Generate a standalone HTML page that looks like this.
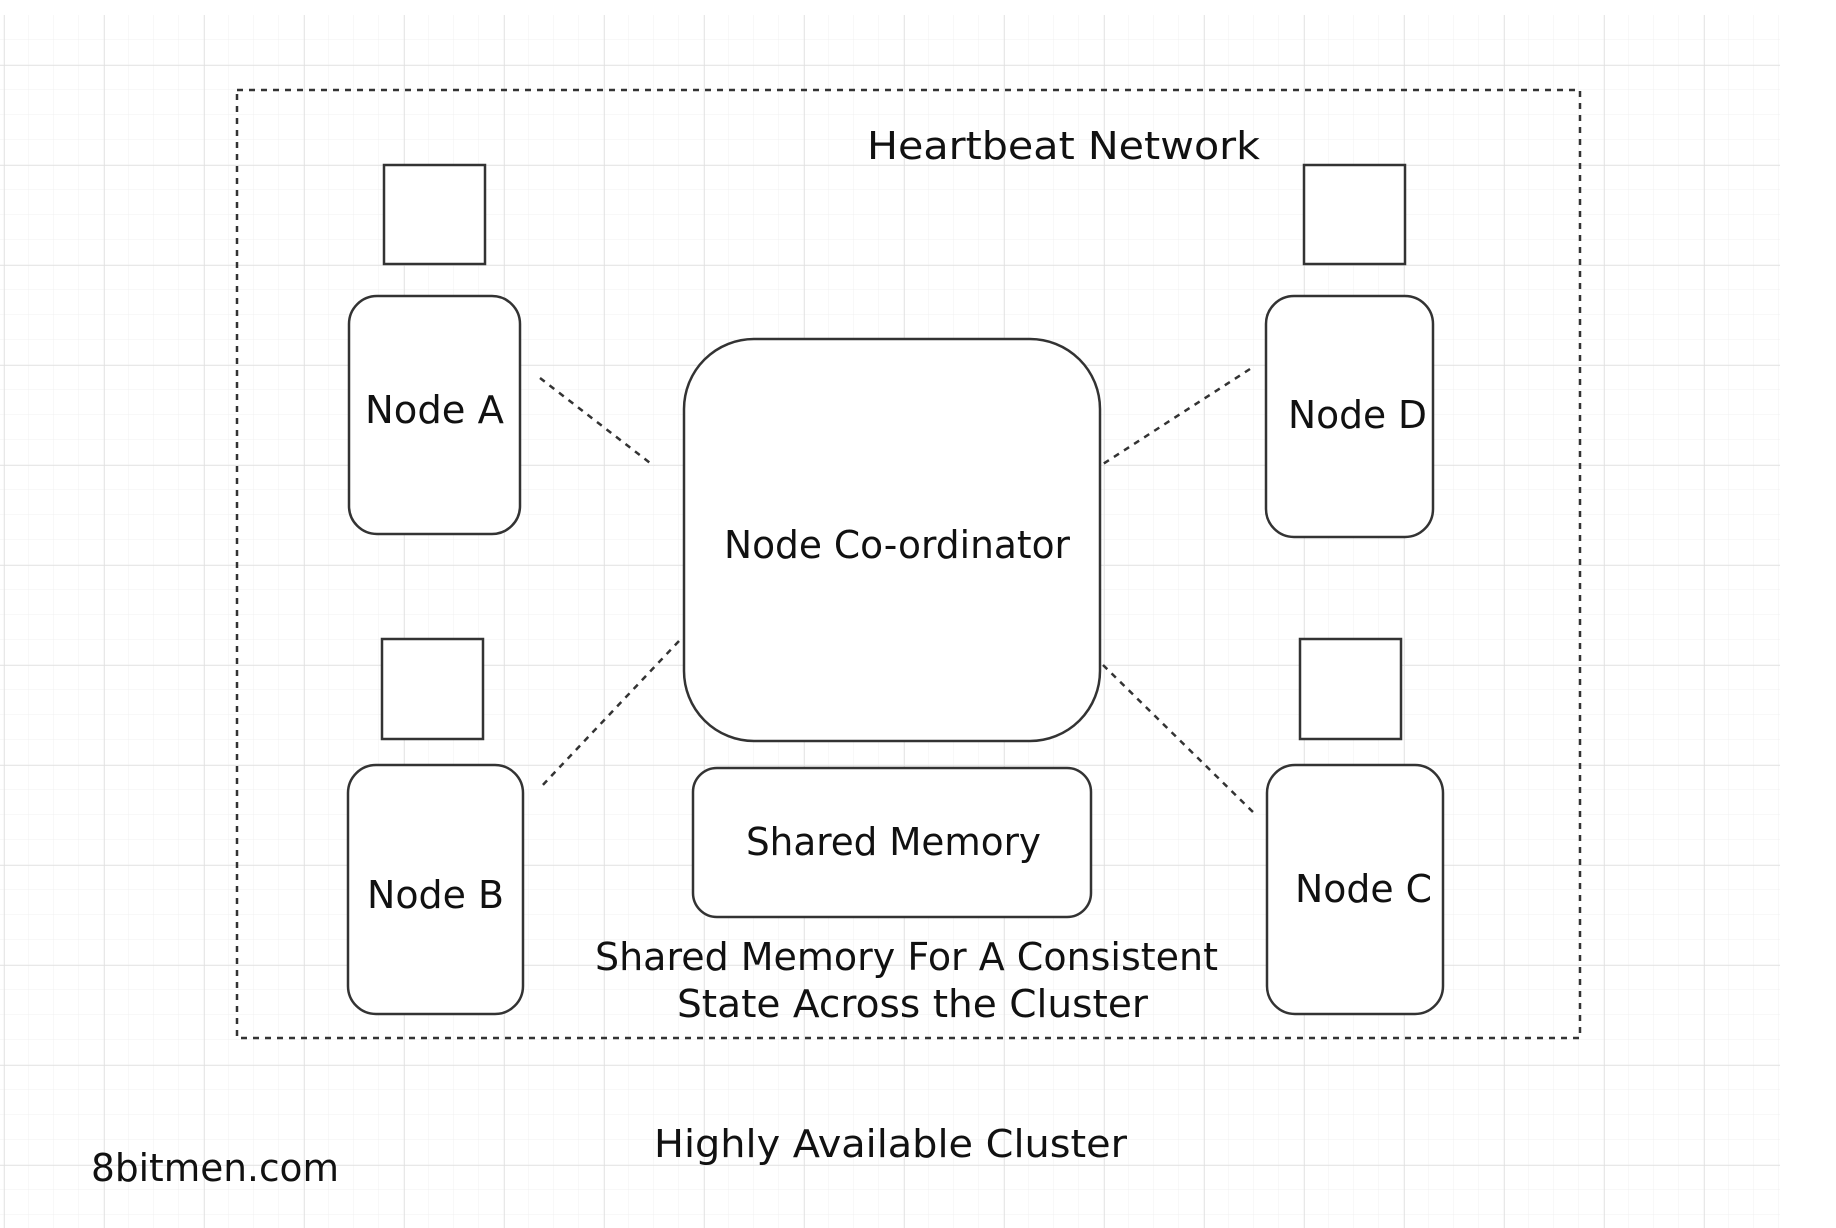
<!DOCTYPE html>
<html><head><meta charset="utf-8"><style>
html,body{margin:0;padding:0;background:#fff;}
svg{display:block}
text{font-family:"Comic Sans MS","DejaVu Sans","Liberation Sans",sans-serif;fill:#111;dominant-baseline:central;}
</style></head><body>
<svg width="1836" height="1228" viewBox="0 0 1836 1228" xmlns="http://www.w3.org/2000/svg">
<defs>
<pattern id="minor" x="4" y="15" width="25" height="25" patternUnits="userSpaceOnUse">
<path d="M25 0V25M0 25H25" stroke="#f0f0f0" stroke-width="1" fill="none"/>
</pattern>
<pattern id="major" x="4" y="65" width="100" height="100" patternUnits="userSpaceOnUse">
<path d="M0 0V100M0 0H100" stroke="#e0e0e0" stroke-width="1.5" fill="none"/>
</pattern>
</defs>
<rect x="0" y="15" width="1780" height="1213" fill="url(#minor)"/>
<rect x="0" y="15" width="1780" height="1213" fill="url(#major)"/>
<g fill="none" stroke="#333" stroke-width="2.5" stroke-dasharray="6,6">
<rect x="237" y="90" width="1343" height="948"/>
<line x1="540" y1="378" x2="654" y2="466"/>
<line x1="1250" y1="369" x2="1103" y2="464"/>
<line x1="679" y1="641" x2="539" y2="789"/>
<line x1="1103" y1="665" x2="1256" y2="815"/>
</g>
<g fill="#fff" stroke="#333" stroke-width="2.5">
<rect x="384" y="165" width="101" height="99"/>
<rect x="1304" y="165" width="101" height="99"/>
<rect x="382" y="639" width="101" height="100"/>
<rect x="1300" y="639" width="101" height="100"/>
<rect x="349" y="296" width="171" height="238" rx="28"/>
<rect x="1266" y="296" width="167" height="241" rx="28"/>
<rect x="348" y="765" width="175" height="249" rx="28"/>
<rect x="1267" y="765" width="176" height="249" rx="28"/>
<rect x="684" y="339" width="416" height="402" rx="70"/>
<rect x="693" y="768" width="398" height="149" rx="24"/>
</g>
<g font-size="38">
<text x="867" y="146" textLength="393" lengthAdjust="spacingAndGlyphs">Heartbeat Network</text>
<text x="365" y="410" textLength="139" lengthAdjust="spacingAndGlyphs">Node A</text>
<text x="1288" y="415" textLength="139" lengthAdjust="spacingAndGlyphs">Node D</text>
<text x="367" y="895" textLength="137" lengthAdjust="spacingAndGlyphs">Node B</text>
<text x="1295" y="889" textLength="137" lengthAdjust="spacingAndGlyphs">Node C</text>
<text x="724" y="545" textLength="346" lengthAdjust="spacingAndGlyphs">Node Co-ordinator</text>
<text x="746" y="842" textLength="295" lengthAdjust="spacingAndGlyphs">Shared Memory</text>
<text x="595" y="957" textLength="623" lengthAdjust="spacingAndGlyphs">Shared Memory For A Consistent</text>
<text x="677" y="1004" textLength="471" lengthAdjust="spacingAndGlyphs">State Across the Cluster</text>
<text x="654" y="1144" textLength="473" lengthAdjust="spacingAndGlyphs">Highly Available Cluster</text>
<text x="91" y="1168" textLength="248" lengthAdjust="spacingAndGlyphs">8bitmen.com</text>
</g>
</svg>
</body></html>
